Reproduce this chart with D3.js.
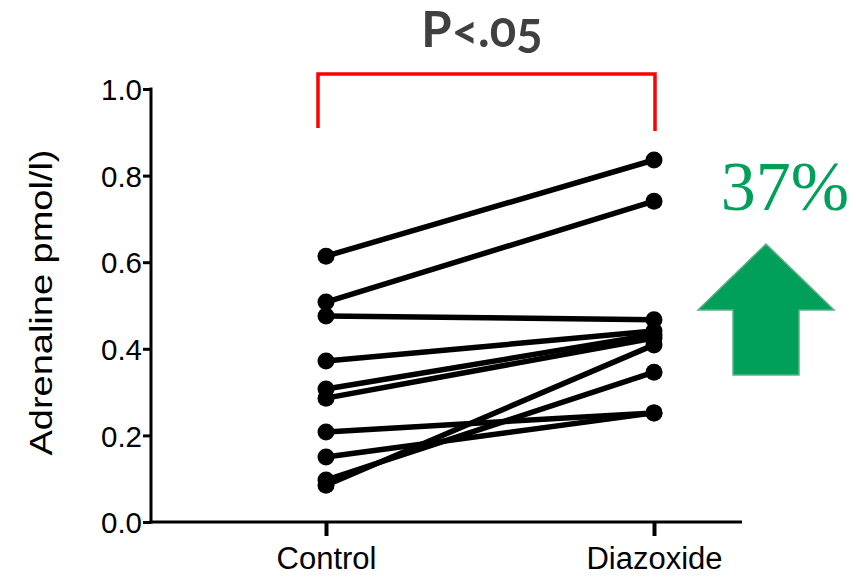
<!DOCTYPE html>
<html>
<head>
<meta charset="utf-8">
<script src="https://cdn.jsdelivr.net/npm/d3@7"></script>
<style>
  html, body { margin: 0; padding: 0; background: #fff; }
  svg { display: block; }
  .ptext { font-variant-numeric: oldstyle-nums; font-feature-settings: "onum" 1; }
</style>
</head>
<body>
<svg id="chart" width="856" height="578"></svg>
<script>
// Paired adrenaline measurements per subject (pmol/l)
const groups = ["Control", "Diazoxide"];
const controlValues   = [0.614, 0.508, 0.476, 0.372, 0.307, 0.286, 0.208, 0.150, 0.097, 0.085];
const diazoxideValues = [0.836, 0.741, 0.467, 0.441, 0.433, 0.425, 0.252, 0.252, 0.346, 0.409];
const yTicks = [0.0, 0.2, 0.4, 0.6, 0.8, 1.0];
const yTitle = "Adrenaline  pmol/l)";
const pLabel = "P<.05";
const changeLabel = "37%";

const pairs = controlValues.map((c, i) => [c, diazoxideValues[i]]);

const svg = d3.select("#chart");

const x = d3.scalePoint().domain(groups).range([326, 654]);
const y = d3.scaleLinear().domain([0, 1]).range([522, 89]);

const axisColor = "#000";
const sans = "'Liberation Sans', Arial, sans-serif";

// Y axis
const yAxis = svg.append("g")
  .attr("transform", "translate(151,0)")
  .call(d3.axisLeft(y).tickValues(yTicks).tickFormat(d3.format(".1f")).tickSize(8).tickSizeOuter(0).tickPadding(1));
yAxis.select(".domain").attr("stroke", axisColor).attr("stroke-width", 3)
  .attr("d", `M0,${y(1) - 1.5}V${y(0) + 1.5}`);
yAxis.selectAll(".tick line").attr("stroke", axisColor).attr("stroke-width", 3);
yAxis.selectAll(".tick text")
  .attr("font-family", sans).attr("font-size", 29.5).attr("fill", "#000")
  .attr("dy", "0.36em");

// X axis
const xAxis = svg.append("g")
  .attr("transform", `translate(0,${y(0)})`)
  .call(d3.axisBottom(x).tickSize(14).tickSizeOuter(0).tickPadding(8));
xAxis.select(".domain").attr("stroke", axisColor).attr("stroke-width", 3)
  .attr("d", "M149.5,0H742");
xAxis.selectAll(".tick line").attr("stroke", axisColor).attr("stroke-width", 4);
xAxis.selectAll(".tick text")
  .attr("font-family", sans).attr("font-size", 31).attr("fill", "#000")
  .attr("dy", "0.8em");

// Y axis title
svg.append("text")
  .attr("transform", `translate(52,${(y(0) + y(1)) / 2 - 3}) rotate(-90)`)
  .attr("text-anchor", "middle")
  .attr("font-family", sans).attr("font-size", 32)
  .attr("textLength", 306).attr("lengthAdjust", "spacingAndGlyphs")
  .text(yTitle);

// Subject lines
svg.append("g").selectAll("line")
  .data(pairs)
  .join("line")
  .attr("x1", x(groups[0])).attr("y1", d => y(d[0]))
  .attr("x2", x(groups[1])).attr("y2", d => y(d[1]))
  .attr("stroke", "#000").attr("stroke-width", 5.5).attr("stroke-linecap", "round");

// Subject points
const pts = pairs.flatMap(d => [[groups[0], d[0]], [groups[1], d[1]]]);
svg.append("g").selectAll("circle")
  .data(pts)
  .join("circle")
  .attr("cx", d => x(d[0])).attr("cy", d => y(d[1]))
  .attr("r", 8.5).attr("fill", "#000");

// Significance bracket
const bx0 = x(groups[0]) - 8, bx1 = x(groups[1]) + 1;
const bTop = 74;
svg.append("path")
  .attr("d", `M${bx0},128V${bTop}H${bx1}V131`)
  .attr("fill", "none").attr("stroke", "#ff0000").attr("stroke-width", 3.5);

svg.append("text")
  .attr("class", "ptext")
  .attr("x", 482).attr("y", 47)
  .attr("text-anchor", "middle")
  .attr("font-family", "Lato, 'Open Sans', sans-serif")
  .attr("font-weight", "bold").attr("font-size", 49).attr("fill", "#404040")
  .text(pLabel);

// Change annotation
const green = "#00a05a";
svg.append("text")
  .attr("x", 785).attr("y", 210)
  .attr("text-anchor", "middle")
  .attr("font-family", "'Liberation Serif', 'Times New Roman', serif")
  .attr("font-size", 70).attr("fill", green)
  .text(changeLabel);

// Up arrow
const ax = 766, tip = 244, headBase = 310, headHalf = 68, shaftHalf = 33, bottom = 375;
svg.append("path")
  .attr("d", `M${ax},${tip}L${ax + headHalf},${headBase}H${ax + shaftHalf}V${bottom}H${ax - shaftHalf}V${headBase}H${ax - headHalf}Z`)
  .attr("fill", green).attr("stroke", "#5fae86").attr("stroke-width", 1.5)
  .attr("stroke-linejoin", "miter");
</script>
</body>
</html>
